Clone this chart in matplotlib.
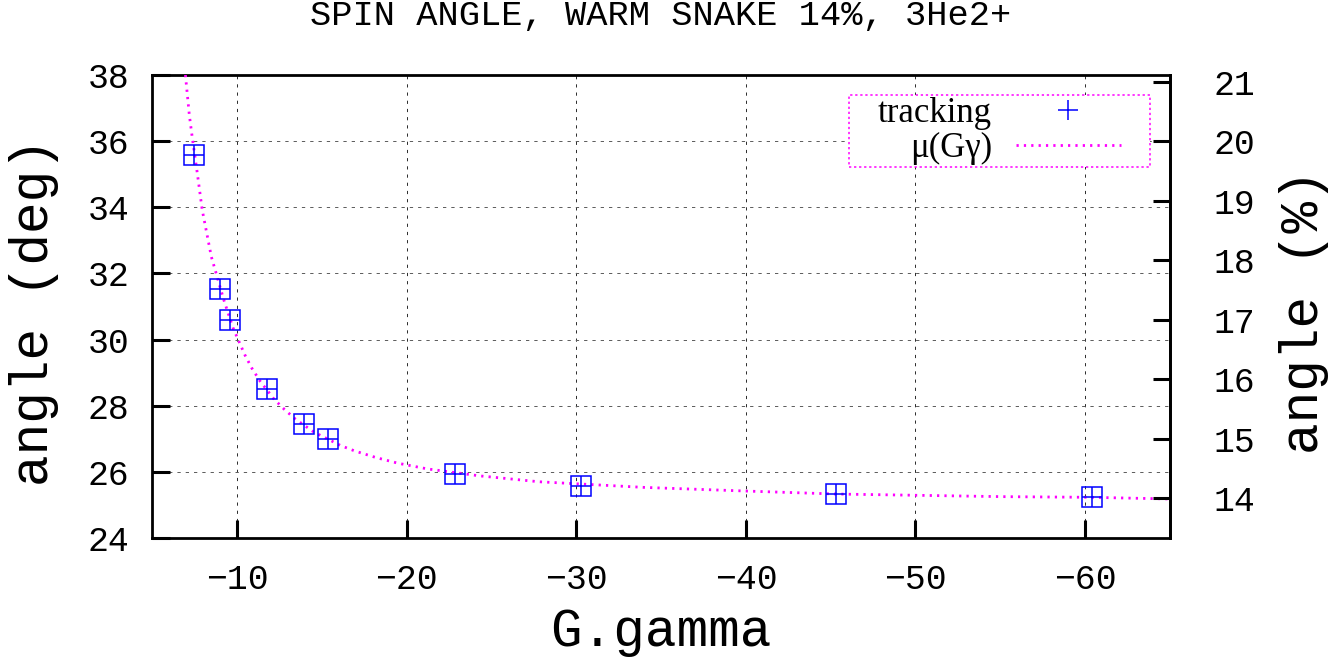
import numpy as np
import matplotlib
matplotlib.use("Agg")
import matplotlib.pyplot as plt

# tracking results: G.gamma vs spin tilt angle (deg)
ggamma = [-7.5, -9.0, -9.6, -11.75, -13.95, -15.4, -22.85, -30.3, -45.3, -60.4]
angle_deg = [35.58, 31.52, 30.58, 28.50, 27.44, 26.98, 25.93, 25.58, 25.33, 25.25]

# mu(G.gamma) curve
mu_gg = [-6.97, -7.20, -7.37, -7.67, -7.96, -8.50, -9.22, -9.77, -10.11, -10.48,
         -10.89, -11.36, -12.19, -12.80, -13.44, -14.55, -16.14, -16.96, -18.22,
         -19.51, -21.22, -24.29, -27.82, -34.01, -40.0, -45.3, -55.17, -60.4, -65.0]
mu_deg = [38.0, 36.79, 36.12, 35.03, 33.92, 32.50, 31.22, 30.36, 29.96, 29.53,
          29.13, 28.75, 28.20, 27.89, 27.60, 27.20, 26.79, 26.63, 26.43,
          26.26, 26.09, 25.88, 25.70, 25.53, 25.42, 25.33, 25.25, 25.23, 25.18]

yticks_deg = [24, 26, 28, 30, 32, 34, 36, 38]
yticks_pct = [14, 15, 16, 17, 18, 19, 20, 21]
xticks = [-10, -20, -30, -40, -50, -60]

deg_to_pct = 100.0 / 180.0

plt.rcParams['font.family'] = ['Liberation Mono', 'DejaVu Sans']

fig = plt.figure(figsize=(13.39, 6.58), dpi=100)
ax = fig.add_axes([152 / 1339, 120 / 658, 1018 / 1339, 463 / 658])

ax.plot(mu_gg, mu_deg, color='#ff00ff', lw=2.0, ls=(0, (0.8, 1.85)),
        label='\u03bc(G\u03b3)', zorder=3)
ax.plot(ggamma, angle_deg, ls='none', marker='s', ms=14.2, mfc='none',
        mec='#0000ff', mew=1.1, zorder=4)
ax.plot(ggamma, angle_deg, ls='none', marker='+', ms=14.2,
        mec='#0000ff', mew=1.1, label='tracking', zorder=5)

ax.set_xlim(-5, -65)
ax.set_ylim(24, 38)
ax.set_xticks(xticks)
ax.set_yticks(yticks_deg)

ax.set_axisbelow(True)
ax.grid(axis='x', color='#303030', lw=0.72, ls=(0, (3.2, 5)))
ax.grid(axis='y', color='#606060', lw=0.72, ls=(0, (3.3, 5)))

for s in ax.spines.values():
    s.set_linewidth(2.0)
ax.tick_params(axis='both', direction='in', length=13, width=2.2,
               labelsize=25, top=False, right=False)
ax.tick_params(axis='y', pad=16.5)
ax.tick_params(axis='x', pad=18)

ax2 = ax.twinx()
ax2.set_ylim(24 * deg_to_pct, 38 * deg_to_pct)
ax2.set_yticks(yticks_pct)
for name, s in ax2.spines.items():
    s.set_linewidth(2.0)
    s.set_visible(name == 'right')
ax2.tick_params(axis='y', direction='in', length=12.5, width=2.2,
                labelsize=25, pad=31)

ax.set_xlabel('G.gamma', fontsize=38)
ax.xaxis.set_label_coords(0.5, -0.203)
ax.xaxis.label.set_verticalalignment('center')
ax.set_ylabel('angle (deg)', fontsize=38)
ax.yaxis.set_label_coords(-0.116, 0.489)
ax.yaxis.label.set_verticalalignment('center')
ax2.set_ylabel('angle (%)', fontsize=38)
ax2.yaxis.set_label_coords(1.1317, 0.488)
ax2.yaxis.label.set_verticalalignment('center')

ax.set_title('SPIN ANGLE, WARM SNAKE 14%, 3He2+', fontsize=25.5,
             y=(538 - 24) / 463, va='center')

handles, labels = ax.get_legend_handles_labels()
leg = ax.legend(handles[::-1], labels[::-1], loc='upper right',
                bbox_to_anchor=(0.9519, 0.9525), borderaxespad=0,
                prop={'family': 'Liberation Serif', 'size': 25},
                markerfirst=False, handlelength=3.03, handletextpad=0.69,
                borderpad=0.0, labelspacing=0.06, fancybox=False,
                framealpha=1, edgecolor='#ff00ff')
frame = leg.get_frame()
frame.set_linestyle((0, (1.5, 1.8)))
frame.set_linewidth(1.1)
# wide side padding, thin top/bottom padding
frame.set_boxstyle('square', pad=0.836)
frame.set_mutation_aspect(0.052)

fig.savefig('out.png', dpi=100)
